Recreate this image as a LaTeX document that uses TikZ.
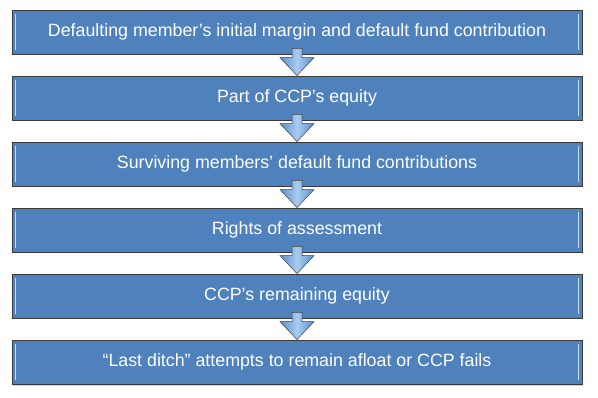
\documentclass[tikz,border=0pt]{standalone}
\usepackage{fontspec}
\setmainfont{Liberation Sans}
\usetikzlibrary{shadows}
\definecolor{boxblue}{HTML}{4F81BD}
\definecolor{boxedge}{HTML}{3A3A3A}
\definecolor{arrowlight}{HTML}{A9CBEF}
\definecolor{arrowdark}{HTML}{5B8FCC}
\definecolor{hilite}{HTML}{C6E0FA}
\tikzset{
  stagebox/.style={draw=boxedge, line width=0.8pt, fill=boxblue, minimum width=570pt, minimum height=44pt,
    inner sep=0pt, text=white, font=\fontsize{17.8}{21}\selectfont,
    drop shadow={shadow xshift=1.2pt, shadow yshift=-1.5pt, opacity=0.35}},
  downarrow/.style={draw=black!75, line width=0.5pt, left color=arrowdark, right color=arrowdark, middle color=arrowlight},
  hl/.style={draw=hilite, line width=1.6pt, line cap=round}
}
\begin{document}
\begin{tikzpicture}[x=1pt,y=1pt]
\useasboundingbox (0,0) rectangle (598,397);
\fill[white] (0,0) rectangle (598,397);
\foreach \i/\txt in {1/{Defaulting member’s initial margin and default fund contribution},
                      2/{Part of CCP’s equity},
                      3/{Surviving members’ default fund contributions},
                      4/{Rights of assessment},
                      5/{CCP’s remaining equity},
                      6/{“Last ditch” attempts to remain afloat or CCP fails}}{
  \pgfmathsetmacro{\cy}{397-32-(\i-1)*66}
  \node[stagebox] (b\i) at (297,\cy) {\txt};
  \draw[hl] ([xshift=4pt,yshift=-5pt]b\i.north west) -- ([xshift=4pt,yshift=5pt]b\i.south west);
  \draw[hl] ([xshift=-4pt,yshift=-5pt]b\i.north east) -- ([xshift=-4pt,yshift=5pt]b\i.south east);
}
\foreach \i [evaluate=\i as \j using int(\i+1)] in {1,...,5}{
  \coordinate (t\i) at ([xshift=0pt,yshift=6pt]b\i.south);
  \coordinate (p\i) at (b\j.north);
  \draw[downarrow] ([xshift=-5pt]t\i) -- ([xshift=5pt]t\i) -- ([xshift=5pt,yshift=18pt]p\i)
     -- ([xshift=17pt,yshift=18pt]p\i) -- (p\i) -- ([xshift=-17pt,yshift=18pt]p\i)
     -- ([xshift=-5pt,yshift=18pt]p\i) -- cycle;
}
\end{tikzpicture}
\end{document}
